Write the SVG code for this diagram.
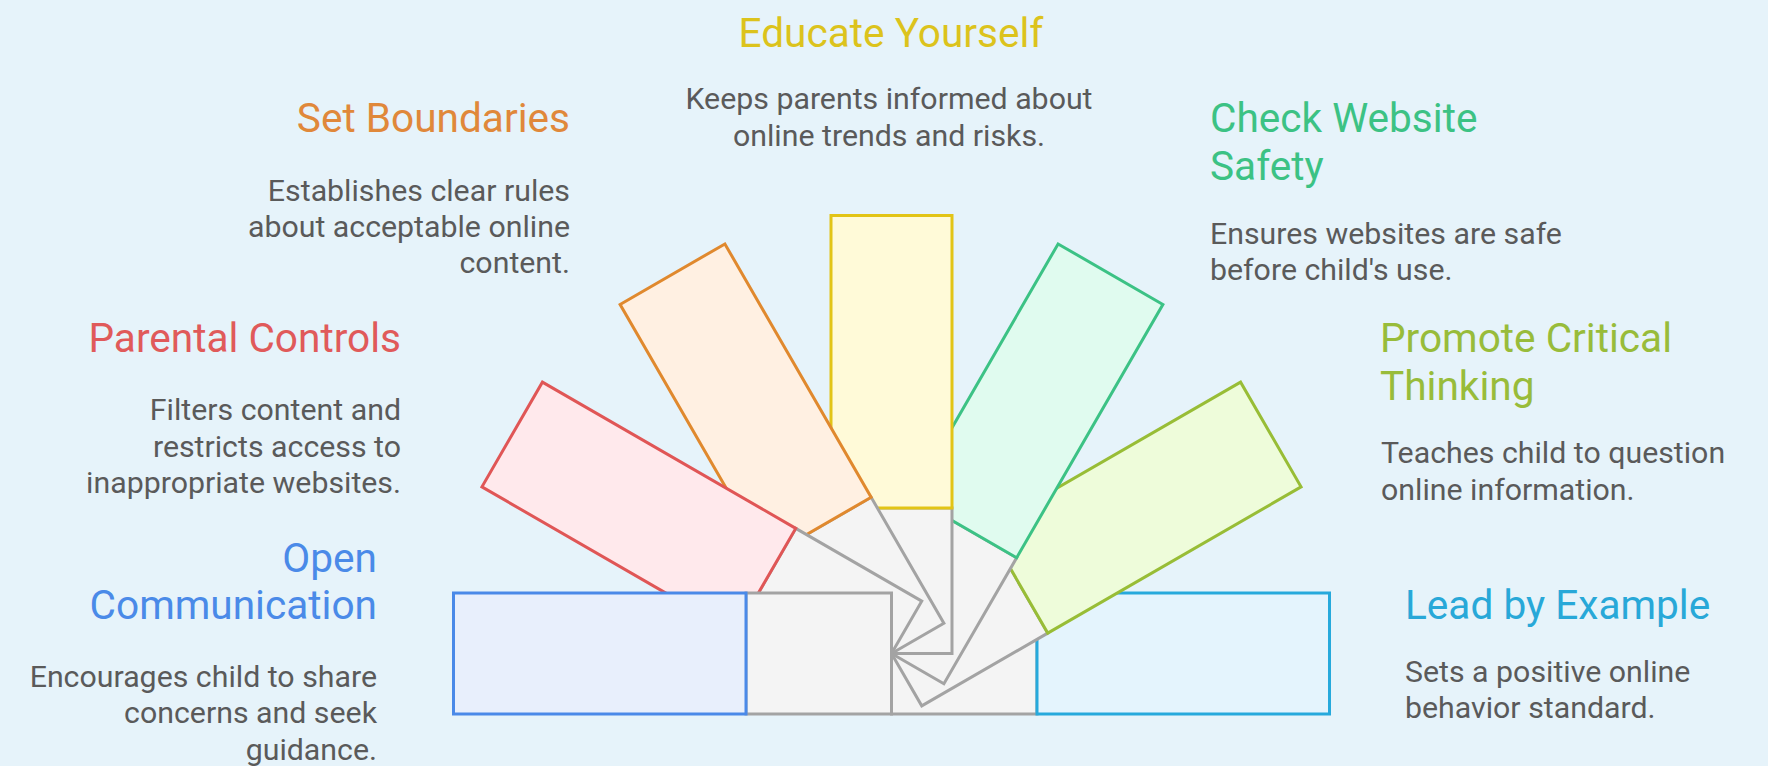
<svg xmlns="http://www.w3.org/2000/svg" width="1768" height="766" viewBox="0 0 1768 766">
  <style>
    .bg { fill: #e6f3fa; }
    .tail { fill: #f4f4f4; stroke: #a3a3a3; stroke-width: 3; stroke-linejoin: miter; }
    .blade { stroke-width: 3; stroke-linejoin: miter; }
    text { font-family: Roboto, "Liberation Sans", sans-serif; }
    .title { font-size: 40.6px; }
    .desc { font-size: 30.3px; fill: #5a5a5a; }
    .end { text-anchor: end; }
    .mid { text-anchor: middle; }
  </style>
  <defs>
    <g id="tailShape"><rect class="tail" x="0" y="-60.5" width="145.5" height="121"/></g>
  </defs>
  <rect class="bg" x="0" y="0" width="1768" height="766"/>

  <g id="connectors"></g>

  <g id="lead-by-example">
    <g transform="translate(891.5 653.5) rotate(0)">
      <use href="#tailShape"/>
      <rect class="blade" x="145.5" y="-60.5" width="292.5" height="121" fill="#e4f4fd" stroke="#26a9dc"/>
    </g>
    <text class="title" x="1405" y="619" fill="#28a8d8">Lead by Example</text>
    <text class="desc" x="1405" y="681.7">Sets a positive online</text>
    <text class="desc" x="1405" y="718.3">behavior standard.</text>
  </g>

  <g id="promote-critical-thinking">
    <g transform="translate(891.5 653.5) rotate(-30)">
      <use href="#tailShape"/>
      <rect class="blade" x="145.5" y="-60.5" width="292.5" height="121" fill="#eefcda" stroke="#98bd36"/>
    </g>
    <text class="title" x="1380" y="351.7" fill="#98bc3a">Promote Critical</text>
    <text class="title" x="1380" y="399.5" fill="#98bc3a">Thinking</text>
    <text class="desc" x="1381" y="463.3">Teaches child to question</text>
    <text class="desc" x="1381" y="499.6">online information.</text>
  </g>

  <g id="check-website-safety">
    <g transform="translate(891.5 653.5) rotate(-60)">
      <use href="#tailShape"/>
      <rect class="blade" x="145.5" y="-60.5" width="292.5" height="121" fill="#e0fbef" stroke="#3cc285"/>
    </g>
    <text class="title" x="1210" y="132.3" fill="#3cc284">Check Website</text>
    <text class="title" x="1210" y="180" fill="#3cc284">Safety</text>
    <text class="desc" x="1210" y="244">Ensures websites are safe</text>
    <text class="desc" x="1210" y="280.4">before child's use.</text>
  </g>

  <g id="educate-yourself">
    <g transform="translate(891.5 653.5) rotate(-90)">
      <use href="#tailShape"/>
      <rect class="blade" x="145.5" y="-60.5" width="292.5" height="121" fill="#fffad8" stroke="#e2c416"/>
    </g>
    <text class="title mid" x="891" y="46.7" fill="#dcc31c">Educate Yourself</text>
    <text class="desc mid" x="889" y="109.3">Keeps parents informed about</text>
    <text class="desc mid" x="889" y="145.7">online trends and risks.</text>
  </g>

  <g id="set-boundaries">
    <g transform="translate(891.5 653.5) rotate(-120)">
      <use href="#tailShape"/>
      <rect class="blade" x="145.5" y="-60.5" width="292.5" height="121" fill="#fff0e2" stroke="#e0892e"/>
    </g>
    <text class="title end" x="570" y="132.3" fill="#e0883a">Set Boundaries</text>
    <text class="desc end" x="570" y="200.7">Establishes clear rules</text>
    <text class="desc end" x="570" y="237">about acceptable online</text>
    <text class="desc end" x="570" y="273.3">content.</text>
  </g>

  <g id="parental-controls">
    <g transform="translate(891.5 653.5) rotate(-150)">
      <use href="#tailShape"/>
      <rect class="blade" x="145.5" y="-60.5" width="292.5" height="121" fill="#ffe9ec" stroke="#e05656"/>
    </g>
    <text class="title end" x="401" y="351.7" fill="#e05a5a">Parental Controls</text>
    <text class="desc end" x="401" y="420">Filters content and</text>
    <text class="desc end" x="401" y="456.7">restricts access to</text>
    <text class="desc end" x="401" y="493.3">inappropriate websites.</text>
  </g>

  <g id="open-communication">
    <g transform="translate(891.5 653.5) rotate(180)">
      <use href="#tailShape"/>
      <rect class="blade" x="145.5" y="-60.5" width="292.5" height="121" fill="#e8effc" stroke="#4a89e8"/>
    </g>
    <text class="title end" x="377" y="571.7" fill="#4a8ae8">Open</text>
    <text class="title end" x="377" y="619" fill="#4a8ae8">Communication</text>
    <text class="desc end" x="377" y="686.7">Encourages child to share</text>
    <text class="desc end" x="377" y="723.3">concerns and seek</text>
    <text class="desc end" x="377" y="759.6">guidance.</text>
  </g>
</svg>
